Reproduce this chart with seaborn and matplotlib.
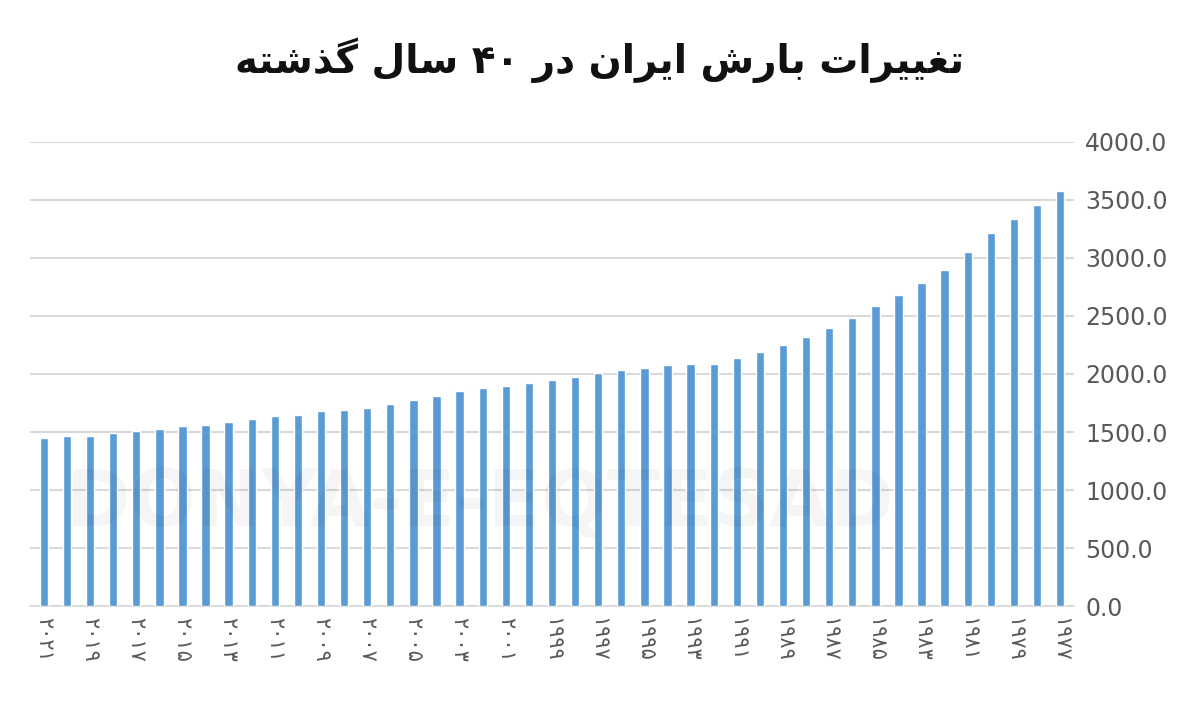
import matplotlib
matplotlib.use("Agg")
import matplotlib.pyplot as plt
import seaborn as sns
import pandas as pd

years = list(range(2021, 1976, -1))
values = [1445, 1462, 1470, 1488, 1505, 1530, 1548, 1565, 1590, 1616, 1634, 1651,
          1677, 1694, 1711, 1745, 1780, 1814, 1857, 1883, 1900, 1926, 1952, 1978,
          2012, 2038, 2055, 2081, 2090, 2090, 2141, 2193, 2253, 2322, 2399, 2485,
          2588, 2683, 2786, 2898, 3052, 3216, 3336, 3457, 3577]
title_text = "تغییرات بارش ایران در ۴۰ سال گذشته"

FA = str.maketrans("0123456789", "۰۱۲۳۴۵۶۷۸۹")
FORMS = {
    'ت': (0xFE95, 0xFE96, 0xFE97, 0xFE98), 'غ': (0xFECD, 0xFECE, 0xFECF, 0xFED0),
    'ی': (0xFBFC, 0xFBFD, 0xFBFE, 0xFBFF), 'ر': (0xFEAD, 0xFEAE, None, None),
    'ا': (0xFE8D, 0xFE8E, None, None), 'ب': (0xFE8F, 0xFE90, 0xFE91, 0xFE92),
    'ش': (0xFEB5, 0xFEB6, 0xFEB7, 0xFEB8), 'د': (0xFEA9, 0xFEAA, None, None),
    'ن': (0xFEE5, 0xFEE6, 0xFEE7, 0xFEE8), 'س': (0xFEB1, 0xFEB2, 0xFEB3, 0xFEB4),
    'ل': (0xFEDD, 0xFEDE, 0xFEDF, 0xFEE0), 'گ': (0xFB92, 0xFB93, 0xFB94, 0xFB95),
    'ذ': (0xFEAB, 0xFEAC, None, None), 'ه': (0xFEE9, 0xFEEA, 0xFEEB, 0xFEEC),
}

def shape_word(w):
    if not any(c in FORMS for c in w):
        return w
    out = []
    for i, c in enumerate(w):
        f = FORMS[c]
        prev_joins = i > 0 and FORMS[w[i-1]][2] is not None
        next_ok = i < len(w) - 1 and f[2] is not None
        if prev_joins and next_ok:
            out.append(chr(f[3]))
        elif prev_joins:
            out.append(chr(f[1]))
        elif next_ok:
            out.append(chr(f[2]))
        else:
            out.append(chr(f[0]))
    return "".join(out)[::-1]

def rtl(s):
    return " ".join(shape_word(w) for w in s.split(" ")[::-1])

sns.set_theme(style="white")
plt.rcParams['font.family'] = ['DejaVu Sans']

df = pd.DataFrame({"year": [str(y) for y in years], "value": values})
fig, ax = plt.subplots(figsize=(12, 7.09), dpi=100)
fig.subplots_adjust(left=0.025, right=0.895, top=0.80, bottom=0.145)
sns.barplot(data=df, x="year", y="value", color="#5B9BD5", saturation=1,
            width=0.36, ax=ax, zorder=3)

ax.set_ylim(0, 4000)
ax.set_yticks(range(0, 4001, 500))
ax.set_yticklabels([f"{v:.1f}" for v in range(0, 4001, 500)], fontsize=17, color="#595959")
ax.yaxis.tick_right()
ax.grid(axis="y", color="#d9d9d9", linewidth=1.5, zorder=0)
ax.set_xlim(-0.6, len(years) - 0.4)
ticks = list(range(0, len(years), 2))
ax.set_xticks(ticks)
ax.set_xticklabels([str(years[i]).translate(FA) for i in ticks], rotation=-90,
                   fontsize=15, color="#595959")
ax.tick_params(axis="both", length=0, pad=8)
for s in ["top", "left", "right"]:
    ax.spines[s].set_visible(False)
ax.spines["bottom"].set_color("#d9d9d9")
ax.set_xlabel("")
ax.set_ylabel("")

fig.text(0.40, 0.29, "DONYA-E-EQTESAD", ha="center", va="center",
         fontsize=56, fontweight="bold", color="#000000", alpha=0.04, zorder=0)
fig.text(0.5, 0.915, rtl(title_text), ha="center", va="center",
         fontsize=28, fontweight="bold", color="#111111")

fig.savefig("out.png", dpi=100)
